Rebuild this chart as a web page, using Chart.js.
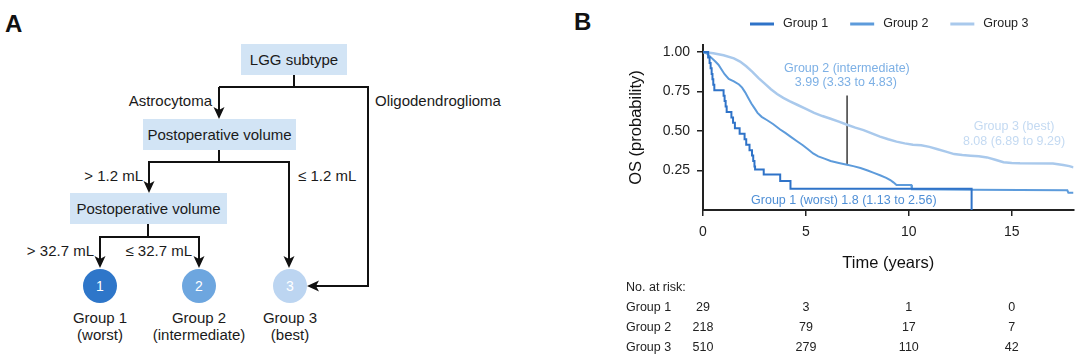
<!DOCTYPE html>
<html><head><meta charset="utf-8">
<script src="https://cdn.jsdelivr.net/npm/chart.js@4.4.1/dist/chart.umd.min.js"></script>
<style>
html,body{margin:0;padding:0;background:#fff;}
body{width:1080px;height:364px;position:relative;overflow:hidden;font-family:"Liberation Sans",Arial,sans-serif;}
#panelA{position:absolute;left:0;top:0;}
#wrapB{position:absolute;left:570px;top:0;width:510px;height:364px;}
</style></head><body>
<svg id="panelA" width="1080" height="364" font-family="Liberation Sans, Arial, sans-serif" font-size="15" fill="#1a1a1a">
  <text x="5" y="32" font-size="24" font-weight="bold" fill="#111">A</text>
  <text x="574" y="30" font-size="24" font-weight="bold" fill="#111">B</text>
  <rect x="241" y="44" width="106" height="31" fill="#d2e4f5"/>
  <rect x="143" y="119" width="153" height="31" fill="#d2e4f5"/>
  <rect x="70" y="193" width="157" height="31" fill="#d2e4f5"/>
  <text x="294" y="64.5" text-anchor="middle">LGG subtype</text>
  <text x="219.5" y="139.5" text-anchor="middle">Postoperative volume</text>
  <text x="148.5" y="213.5" text-anchor="middle">Postoperative volume</text>
  <g stroke="#111" stroke-width="2" fill="none">
    <path d="M294 75 V87 M219 87 H369 M219 87 V112 M368 87 V286 H314"/>
    <path d="M219 150 V162 M148 162 H290 M149 162 V186 M289 162 V261"/>
    <path d="M148 224 V237 M99 237 H200 M100 237 V261 M199 237 V261"/>
  </g>
  <g fill="#111">
    <polygon points="219,119 213.5,107 219,110 224.5,107"/>
    <polygon points="149,193 143.5,181 149,184 154.5,181"/>
    <polygon points="289,268 283.5,256 289,259 294.5,256"/>
    <polygon points="100,268 94.5,256 100,259 105.5,256"/>
    <polygon points="199,268 193.5,256 199,259 204.5,256"/>
    <polygon points="307,286 319,280.5 316,286 319,291.5"/>
  </g>
  <text x="212" y="105.5" text-anchor="end">Astrocytoma</text>
  <text x="375" y="105.5" text-anchor="start">Oligodendroglioma</text>
  <text x="143" y="180.5" text-anchor="end">&gt; 1.2 mL</text>
  <text x="298" y="180.5" text-anchor="start">≤ 1.2 mL</text>
  <text x="94" y="255.5" text-anchor="end">&gt; 32.7 mL</text>
  <text x="192" y="255.5" text-anchor="end">≤ 32.7 mL</text>
  <circle cx="100" cy="286" r="17" fill="#2e76c9"/>
  <circle cx="199" cy="286" r="17" fill="#6da6df"/>
  <circle cx="290" cy="286" r="17" fill="#bcd5f1"/>
  <text x="100" y="291" text-anchor="middle" fill="#fff" font-size="14">1</text>
  <text x="199" y="291" text-anchor="middle" fill="#fff" font-size="14">2</text>
  <text x="290" y="291" text-anchor="middle" fill="#fff" font-size="14">3</text>
  <text x="100" y="322.5" text-anchor="middle">Group 1</text>
  <text x="100" y="339.5" text-anchor="middle">(worst)</text>
  <text x="199" y="322.5" text-anchor="middle">Group 2</text>
  <text x="199" y="339.5" text-anchor="middle">(intermediate)</text>
  <text x="290" y="322.5" text-anchor="middle">Group 3</text>
  <text x="290" y="339.5" text-anchor="middle">(best)</text>
</svg>
<div id="wrapB"><canvas id="c" width="510" height="364"></canvas></div>
<script>
// ---- Data ----
const seriesLabels = ['Group 1', 'Group 2', 'Group 3'];
const seriesColors = ['#2f73c8', '#5d9bdb', '#a9c9ec'];

const g1Time = [0, 0.25, 0.32, 0.37, 0.42, 0.46, 0.5, 0.55, 1.0, 1.05, 1.1, 1.15, 1.38, 1.46, 1.55, 1.78, 2.02, 2.1, 2.26, 2.38, 2.44, 2.5, 2.53, 2.95, 3.75, 4.25, 13.05];
const g1Surv = [1, 0.966, 0.931, 0.897, 0.862, 0.828, 0.793, 0.759, 0.724, 0.69, 0.655, 0.62, 0.586, 0.552, 0.517, 0.483, 0.448, 0.414, 0.379, 0.345, 0.31, 0.276, 0.256, 0.225, 0.183, 0.135, 0];

const g2Time = [0, 0.2, 0.4, 0.6, 0.75, 0.9, 1.05, 1.25, 1.5, 1.75, 1.9, 2.05, 2.2, 2.35, 2.5, 2.65, 2.85, 3.1, 3.4, 3.75, 4.0, 4.25, 4.55, 4.85, 5.1, 5.35, 5.6, 5.9, 6.2, 6.6, 7.0, 7.3, 7.65, 8.0, 8.3, 8.6, 8.9, 9.1, 9.25, 9.4, 10.12, 10.15, 13.05, 17.7, 17.75, 18];
const g2Surv = [1, 0.99, 0.965, 0.94, 0.92, 0.89, 0.86, 0.83, 0.815, 0.795, 0.775, 0.745, 0.71, 0.675, 0.645, 0.615, 0.59, 0.57, 0.545, 0.51, 0.488, 0.465, 0.437, 0.41, 0.385, 0.358, 0.34, 0.325, 0.31, 0.298, 0.287, 0.278, 0.266, 0.25, 0.235, 0.22, 0.204, 0.19, 0.175, 0.158, 0.158, 0.132, 0.128, 0.125, 0.11, 0.11];

const g3Time = [0, 0.5, 1.0, 1.5, 1.8, 2.1, 2.4, 2.7, 3.0, 3.3, 3.6, 3.9, 4.2, 4.6, 5.0, 5.4, 5.8, 6.2, 6.6, 7.0, 7.4, 7.8, 8.2, 8.6, 9.0, 9.4, 9.8, 10.2, 10.6, 11.0, 11.4, 11.8, 12.2, 12.6, 13.0, 13.4, 13.8, 14.2, 14.6, 15.0, 15.4, 17.0, 17.5, 17.8, 18];
const g3Surv = [1, 0.993, 0.98, 0.96, 0.94, 0.91, 0.875, 0.835, 0.8, 0.765, 0.735, 0.71, 0.69, 0.665, 0.64, 0.615, 0.595, 0.578, 0.56, 0.54, 0.522, 0.506, 0.485, 0.465, 0.448, 0.433, 0.422, 0.413, 0.41, 0.4, 0.385, 0.37, 0.354, 0.348, 0.344, 0.34, 0.333, 0.318, 0.302, 0.298, 0.296, 0.295, 0.285, 0.278, 0.27];

const pointerTime = [7, 7];
const pointerSurv = [0.287, 0.725];

const xTickValues = [0, 5, 10, 15];
const yTickValues = [0.25, 0.5, 0.75, 1.0];

const riskTimes = [0, 5, 10, 15];
const riskGroup1 = [29, 3, 1, 0];
const riskGroup2 = [218, 79, 17, 7];
const riskGroup3 = [510, 279, 110, 42];

const annotTexts = ['Group 2 (intermediate)', '3.99 (3.33 to 4.83)', 'Group 3 (best)', '8.08 (6.89 to 9.29)', 'Group 1 (worst) 1.8 (1.13 to 2.56)'];
const annotTime = [6.99, 6.94, 15.11, 15.11, 6.84];
const annotSurv = [0.897, 0.806, 0.527, 0.432, 0.059];
const annotColors = ['#7db0e5', '#7db0e5', '#c4daf2', '#c4daf2', '#4f8fd6'];

// ---- Build ----
const FONT = '"Liberation Sans", Arial, sans-serif';
const toXY = (t, s) => t.map((v, i) => ({x: v, y: s[i]}));

const extras = {
  id: 'extras',
  afterDraw(chart) {
    const {ctx, scales: {x, y}} = chart;
    ctx.save();
    // legend
    ctx.font = '12.5px ' + FONT;
    ctx.textBaseline = 'middle';
    ctx.textAlign = 'left';
    let lx = 180;
    for (let i = 0; i < seriesLabels.length; i++) {
      ctx.strokeStyle = seriesColors[i];
      ctx.lineWidth = 3;
      ctx.beginPath(); ctx.moveTo(lx, 24); ctx.lineTo(lx + 24, 24); ctx.stroke();
      ctx.fillStyle = '#222';
      ctx.fillText(seriesLabels[i], lx + 33, 24);
      lx += 33 + ctx.measureText(seriesLabels[i]).width + 22;
    }
    // annotations
    ctx.font = '12.5px ' + FONT;
    ctx.textAlign = 'center';
    for (let i = 0; i < annotTexts.length; i++) {
      ctx.fillStyle = annotColors[i];
      ctx.fillText(annotTexts[i], x.getPixelForValue(annotTime[i]), y.getPixelForValue(annotSurv[i]));
    }
    // at-risk table
    ctx.fillStyle = '#222';
    ctx.textAlign = 'left';
    ctx.fillText('No. at risk:', 56, 288);
    const rows = [riskGroup1, riskGroup2, riskGroup3];
    for (let r = 0; r < rows.length; r++) {
      const ry = 308 + r * 20;
      ctx.textAlign = 'left';
      ctx.fillText(seriesLabels[r], 56, ry);
      ctx.textAlign = 'center';
      for (let k = 0; k < riskTimes.length; k++) {
        ctx.fillText(String(rows[r][k]), x.getPixelForValue(riskTimes[k]), ry);
      }
    }
    ctx.restore();
  }
};

new Chart(document.getElementById('c'), {
  type: 'line',
  data: {
    datasets: [
      {label: seriesLabels[0], data: toXY(g1Time, g1Surv), borderColor: seriesColors[0], borderWidth: 2, stepped: true, pointRadius: 0, fill: false},
      {label: seriesLabels[1], data: toXY(g2Time, g2Surv), borderColor: seriesColors[1], borderWidth: 2, pointRadius: 0, fill: false, tension: 0},
      {label: seriesLabels[2], data: toXY(g3Time, g3Surv), borderColor: seriesColors[2], borderWidth: 2.5, pointRadius: 0, fill: false, tension: 0},
      {label: 'pointer', data: toXY(pointerTime, pointerSurv), borderColor: '#3a3a3a', borderWidth: 1.5, pointRadius: 0, fill: false}
    ]
  },
  options: {
    responsive: false,
    animation: false,
    devicePixelRatio: 1,
    layout: {padding: {left: 0, right: 6.5, top: 45, bottom: 84}},
    plugins: {legend: {display: false}, tooltip: {enabled: false}},
    scales: {
      x: {
        type: 'linear', min: 0, max: 18,
        afterBuildTicks: s => { s.ticks = xTickValues.map(v => ({value: v})); },
        afterFit: s => { s.height = 70; },
        ticks: {font: {family: FONT, size: 14}, color: '#222', padding: 8, maxRotation: 0},
        grid: {drawOnChartArea: false, drawTicks: true, tickLength: 6, color: '#222', lineWidth: 1.5},
        border: {display: true, color: '#222', width: 2},
        title: {display: true, text: 'Time (years)', font: {family: FONT, size: 16.5}, color: '#111', padding: {top: 0, bottom: 7}}
      },
      y: {
        type: 'linear', min: 0, max: 1.045,
        afterBuildTicks: s => { s.ticks = yTickValues.map(v => ({value: v})); },
        afterFit: s => { s.width = 133; },
        ticks: {font: {family: FONT, size: 14}, color: '#222', padding: 7, callback: v => v.toFixed(2)},
        grid: {drawOnChartArea: false, drawTicks: true, tickLength: 6, color: '#222', lineWidth: 1.5},
        border: {display: true, color: '#222', width: 2},
        title: {display: true, text: 'OS (probability)', font: {family: FONT, size: 16.5}, color: '#111', padding: {top: 57, bottom: 0}}
      }
    }
  },
  plugins: [extras]
});
</script>
</body></html>
